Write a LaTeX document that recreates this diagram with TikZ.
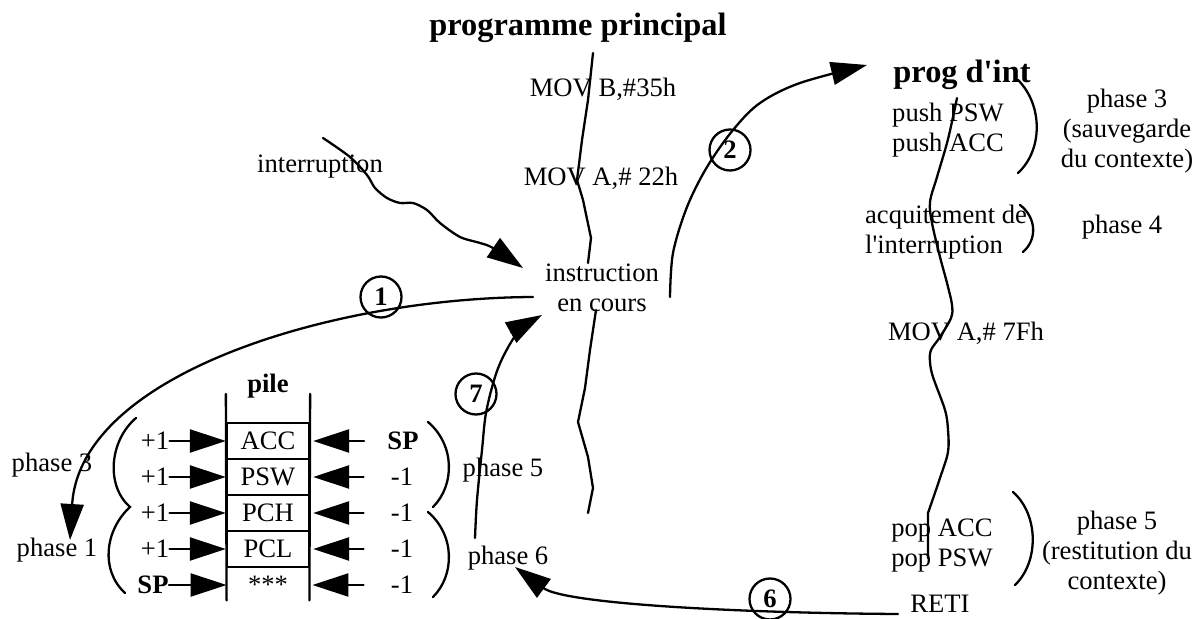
\documentclass[tikz,border=0pt]{standalone}
\usepackage{fontspec}
\newfontfamily\diagserif{Liberation Serif}
\usetikzlibrary{arrows.meta,calc}
\begin{document}
\begin{tikzpicture}[x=0.5pt,y=-0.5pt,
  every node/.style={font=\diagserif\fontsize{13.3}{15}\selectfont, inner sep=0pt},
  bold/.style={font=\diagserif\fontsize{13.3}{15}\selectfont\bfseries},
  title/.style={font=\diagserif\fontsize{16.2}{18}\selectfont\bfseries},
  ln/.style={line width=1.15pt, line cap=round, line join=round},
  arr/.style={ln, -{Triangle[length=18pt,width=11.5pt]}},
  num/.style={draw, circle, line width=1.15pt, minimum size=20.5pt, inner sep=0pt,
    font=\diagserif\fontsize{13.3}{15}\selectfont\bfseries},
  cell/.style={draw, line width=1.15pt, minimum width=41pt, minimum height=18pt},
  brk/.style={line width=1.15pt, line cap=round}]
\useasboundingbox (0,0) rectangle (1204,619);

% ---- main program ----
\node[title] (title) at (578,28) {programme principal};
\node (movb) at (603,89) {MOV B,\#35h};
\node (mova) at (601,178) {MOV A,\# 22h};
\node (intr) at (320,167) {interruption};
\node[align=center] (instr) at (602,288) {instruction\\en cours};

% ---- interrupt routine ----
\node[title] (progint) at (962,75) {prog d'int};
\node[align=left] (push) at (948,130) {push PSW\\push ACC};
\node[align=center] (ph3r) at (1127,131) {phase 3\\(sauvegarde\\du contexte)};
\node[align=left] (acq) at (946,232) {acquitement de\\l'interruption};
\node (ph4) at (1122,227) {phase 4};
\node (mov7) at (966,333) {MOV A,\# 7Fh};
\node[align=left] (pop) at (942,546) {pop ACC\\pop PSW};
\node[align=center] (ph5r) at (1117,553) {phase 5\\(restitution du\\contexte)};
\node (reti) at (940,604) {RETI};

% ---- stack ----
\node[bold] (pile) at (268,386) {pile};
\node[cell] (acc) at (268,441) {ACC};
\node[cell] (psw) at (268,477) {PSW};
\node[cell] (pch) at (268,513) {PCH};
\node[cell] (pcl) at (268,549) {PCL};
\node[minimum width=41pt, minimum height=18pt] (stars) at (268,585) {***};
\draw[ln] ($(acc.north west)+(0,-28)$) -- ($(stars.south west)+(0,-3)$);
\draw[ln] ($(acc.north east)+(0,-28)$) -- ($(stars.south east)+(0,-3)$);

\node (pl1) at (155,441) {+1};
\node (pl2) at (155,477) {+1};
\node (pl3) at (155,513) {+1};
\node (pl4) at (155,549) {+1};
\node[bold] (spl) at (153,585) {SP};
\draw[arr] (pl1.east) -- (acc.west);
\draw[arr] (pl2.east) -- (psw.west);
\draw[arr] (pl3.east) -- (pch.west);
\draw[arr] (pl4.east) -- (pcl.west);
\draw[arr] (spl.east) -- (stars.west);

\node[bold] (spr) at (403,441) {SP};
\node (mr1) at (402,477) {-1};
\node (mr2) at (402,513) {-1};
\node (mr3) at (402,549) {-1};
\node (mr4) at (402,585) {-1};
\draw[arr] ($(spr.west)+(-23,0)$) -- ($(acc.east)+(3,0)$);
\draw[arr] ($(mr1.west)+(-27,0)$) -- ($(psw.east)+(3,0)$);
\draw[arr] ($(mr2.west)+(-27,0)$) -- ($(pch.east)+(3,0)$);
\draw[arr] ($(mr3.west)+(-27,0)$) -- ($(pcl.east)+(3,0)$);
\draw[arr] ($(mr4.west)+(-27,0)$) -- ($(stars.east)+(3,0)$);

\node (ph3l) at (52,465) {phase 3};
\node (ph1l) at (57,550) {phase 1};
\node (ph5m) at (503,470) {phase 5};
\node (ph6m) at (508,558) {phase 6};

% brackets round the stack
\draw[brk] (136,418) .. controls (110,440) and (105,485) .. (130,507)
                     .. controls (105,530) and (100,570) .. (125,593);
\draw[brk] (428,422) .. controls (455,445) and (455,485) .. (433,507);
\draw[brk] (428,512) .. controls (455,535) and (455,575) .. (433,597);

% brackets of the interrupt routine
\draw[brk] (1018,80) .. controls (1043,105) and (1043,150) .. (1018,173);
\draw[brk] (1020,205) .. controls (1037,218) and (1037,240) .. (1023,252);
\draw[brk] (1013,492) .. controls (1039,515) and (1039,562) .. (1015,585);

% ---- program threads ----
\draw[ln] (593,53) -- (588,100) -- (582,140) -- (577,180) -- (583,200)
          -- (591,238) -- (588,263);
\draw[ln] (596,310) -- (590,350) -- (585,388) -- (578,422) -- (588,457)
          -- (593,488) -- (588,513);
\draw[ln] plot[smooth, tension=0.55] coordinates {(957,98) (953,117) (947,143)
   (937,177) (930,202) (932,223) (940,257) (947,283) (952,305) (951,318)
   (940,337) (931,350) (930,362) (933,377) (945,410) (948,430) (948,452)
   (940,478) (928,513)} -- (928,558);

% ---- numbered steps ----
\node[num] (n1) at (381,297) {\raisebox{-3pt}{1}};
\node[num] (n2) at (730,150) {\raisebox{-3pt}{2}};
\node[num] (n7) at (476,394) {\raisebox{-3pt}{7}};
\node[num] (n6) at (770,599) {\raisebox{-3pt}{6}};

\coordinate (a1s) at (533,297);
\coordinate (a1e) at (70,540);
\draw[arr] (a1s) .. controls (330,298) and (80,375) .. (a1e);

\coordinate (a2s) at (670,297);
\coordinate (a2e) at (867,65);
\draw[arr] plot[smooth, tension=0.55] coordinates {(a2s) (673,253) (687,207)
   (707,167) (733,130) (760,103) (800,83) (a2e)};

\coordinate (a7s) at (475,538);
\coordinate (a7e) at (542,315);
\draw[arr] plot[smooth, tension=0.55] coordinates {(a7s) (477,500) (482,450)
   (486,413) (495,377) (505,353) (520,330) (a7e)};

\coordinate (a6s) at (898,614);
\coordinate (a6e) at (515,567);
\draw[arr] (a6s) .. controls (740,613) and (565,604) .. (a6e);

\coordinate (irs) at (323,138);
\coordinate (ire) at (523,268);
\draw[arr] plot[smooth, tension=0.5] coordinates {(irs) (350,157) (367,175)
   (375,188) (387,198) (400,203) (413,203) (427,210) (440,223) (460,237)
   (480,243) (493,248) (ire)};
\end{tikzpicture}
\end{document}
